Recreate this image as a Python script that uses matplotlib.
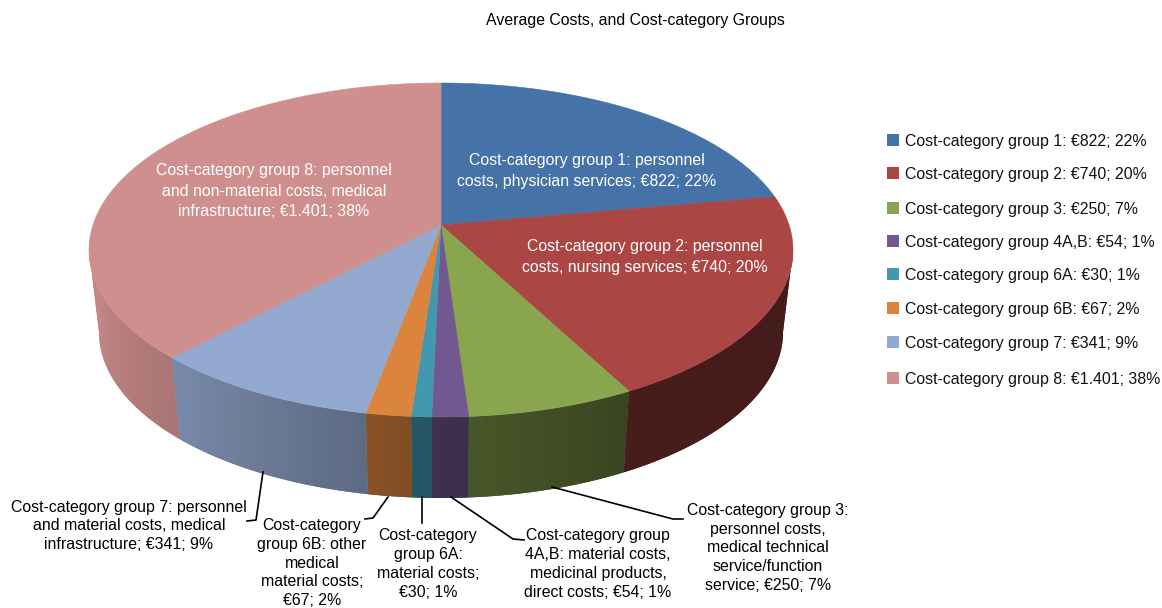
#3D style pie chart of average costs per cost-category group
from matplotlib import pyplot as plt
from matplotlib import patches as mp
from matplotlib import colors as mc
import numpy as np

plt.rcParams['font.family'] = ['Liberation Sans', 'DejaVu Sans']

GROUPS = ['1', '2', '3', '4A,B', '6A', '6B', '7', '8']
COSTS = [822, 740, 250, 54, 30, 67, 341, 1401]
COST_TEXT = ['€822', '€740', '€250', '€54', '€30', '€67', '€341', '€1.401']
PERCENT = [22, 20, 7, 1, 1, 2, 9, 38]
COLORS = ['#4572a7', '#aa4643', '#89a54e', '#71588f', '#4198af', '#db843d', '#93a9cf', '#cf8f8e']

LEGEND_Y = [140, 173, 208, 241, 274, 308, 342, 378]

INSIDE = [
    (587, 171, 'Cost-category group 1: personnel\ncosts, physician services; €822; 22%'),
    (645, 257, 'Cost-category group 2: personnel\ncosts, nursing services; €740; 20%'),
    (274, 191, 'Cost-category group 8: personnel\nand non-material costs, medical\ninfrastructure; €1.401; 38%'),
]
OUTSIDE = [
    (129, 526, 'Cost-category group 7: personnel\nand material costs, medical\ninfrastructure; €341; 9%'),
    (312, 563, 'Cost-category\ngroup 6B: other\nmedical\nmaterial costs;\n€67; 2%'),
    (428, 564, 'Cost-category\ngroup 6A:\nmaterial costs;\n€30; 1%'),
    (598, 564, 'Cost-category group\n4A,B: material costs,\nmedicinal products,\ndirect costs; €54; 1%'),
    (768, 548, 'Cost-category group 3:\npersonnel costs,\nmedical technical\nservice/function\nservice; €250; 7%'),
]
LEADERS = [
    [(263, 472), (256, 520), (247, 521)],
    [(388, 497), (373, 518), (365, 519)],
    [(422, 497), (422, 523)],
    [(451, 497), (513, 539), (524, 540)],
    [(552, 487), (673, 519), (683, 519)],
]

#Shape of the tilted pie in pixels
CX, APEX_Y = 441, 225
TOP_RX, TOP_Y, TOP_RY = 352, 250, 167
BOT_RX, BOT_Y, BOT_RY = 342, 332, 166


def warp(t):
    #perspective: slices at the far side look narrower than their share
    return t - 0.15 * np.sin(t)


def top_rim(t):
    w = warp(t)
    return CX + TOP_RX * np.sin(w), TOP_Y - TOP_RY * np.cos(w)


def bottom_rim(t):
    w = warp(t)
    return CX + BOT_RX * np.sin(w), BOT_Y - BOT_RY * np.cos(w)


def shade(t):
    #side gets darker going from the left round to the right
    return np.interp(np.degrees(warp(t)), [90, 147, 178, 192, 230, 270], [0.40, 0.42, 0.54, 0.63, 0.82, 0.95])


fig = plt.figure(figsize=(11.62, 6.08), dpi=100)
ax = fig.add_axes([0, 0, 1, 1])

edges = np.concatenate([[0], np.cumsum(COSTS)]) / np.sum(COSTS) * 2 * np.pi

#visible part of the side runs between the two horizontal extremes of the rim
grid = np.linspace(0, 2 * np.pi, 2000)
t_right = np.interp(np.pi / 2, warp(grid), grid)
t_left = np.interp(3 * np.pi / 2, warp(grid), grid)

#side wall, each slice is a gradient image clipped to its outline
for i in range(len(COSTS)):
    a, b = max(edges[i], t_right), min(edges[i + 1], t_left)
    if b <= a:
        continue
    rgb = np.array(mc.to_rgb(COLORS[i]))
    t = np.linspace(a, b, 200)
    xt, yt = top_rim(t)
    xb, yb = bottom_rim(t)
    px, py = np.r_[xt, xb[::-1]], np.r_[yt, yb[::-1]]
    ax.fill(px, py, color=rgb * shade(t).mean(), lw=0)

    columns = np.arange(np.floor(px.min()), np.ceil(px.max()) + 1)
    order = np.argsort(xb)
    strip = np.interp(columns, xb[order], shade(t)[order])[None, :, None] * rgb
    im = ax.imshow(strip, extent=(columns[0], columns[-1], 608, 0), aspect='auto', interpolation='bilinear', zorder=1.5)
    im.set_clip_path(mp.Polygon(np.c_[px, py], transform=ax.transData))

#top face
for i in range(len(COSTS)):
    t = np.linspace(edges[i], edges[i + 1], 200)
    x, y = top_rim(t)
    ax.fill(np.r_[CX, x], np.r_[APEX_Y, y], color=COLORS[i], lw=0.4, zorder=2)

for x, y, txt in INSIDE:
    ax.text(x, y, txt, color='white', fontsize=11.4, ha='center', va='center', linespacing=1.42, zorder=3)
for x, y, txt in OUTSIDE:
    ax.text(x, y, txt, color='black', fontsize=11.4, ha='center', va='center', linespacing=1.32, zorder=3)
for pts in LEADERS:
    ax.plot([p[0] for p in pts], [p[1] for p in pts], color='black', lw=1.2, zorder=3)

#legend
for i in range(len(GROUPS)):
    ax.add_patch(mp.Rectangle((887, LEGEND_Y[i] - 6), 12, 12, color=COLORS[i], lw=0))
    label = 'Cost-category group ' + GROUPS[i] + ': ' + COST_TEXT[i] + '; ' + str(PERCENT[i]) + '%'
    ax.text(905, LEGEND_Y[i] + 1.5, label, fontsize=11.4, ha='left', va='center', color='#111111')

ax.text(635, 20, 'Average Costs, and Cost-category Groups', fontsize=11.4, ha='center', va='center')

ax.set_xlim(0, 1162)
ax.set_ylim(608, 0)
ax.axis('off')

plt.savefig('out.png', dpi=100)
